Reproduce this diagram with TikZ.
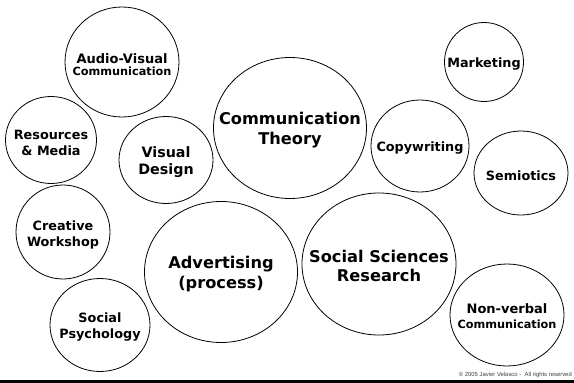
\documentclass[tikz,border=0pt]{standalone}
\usepackage{fontspec}
\setmainfont{DejaVu Sans}
\newfontfamily\notefont{Liberation Sans}
\usetikzlibrary{shapes.geometric}

\tikzset{
  bubble/.style={draw=black, line width=0.8pt, ellipse, inner sep=0pt},
  txt/.style={font=\bfseries\fontsize{12.8}{16}\selectfont, align=center, text=black, yshift=-2.5pt},
  bigtxt/.style={font=\bfseries\fontsize{16.2}{19.5}\selectfont, align=center, text=black, yshift=-2pt},
  midtxt/.style={font=\bfseries\fontsize{14.3}{17}\selectfont, align=center, text=black, yshift=-2.5pt},
}
\newcommand{\smallline}[1]{{\fontsize{11.3}{13}\selectfont #1}}

\begin{document}
\begin{tikzpicture}[x=1pt, y=-1pt]
  % canvas
  \fill[white] (0,0) rectangle (574,383);
  \useasboundingbox (0,0) rectangle (574,383);

  % topic bubbles
  \node[bubble, minimum width=114pt, minimum height=110pt,
        label={[txt, font=\bfseries\fontsize{13}{13}\selectfont]center:Audio-Visual\\[-1pt]\smallline{Communication}}] (av) at (122,62) {};
  \node[bubble, minimum width=91pt, minimum height=87pt,
        label={[txt]center:Resources\\\& Media}] (res) at (51,140) {};
  \node[bubble, minimum width=94pt, minimum height=87pt,
        label={[midtxt]center:Visual\\Design}] (vis) at (166,160) {};
  \node[bubble, minimum width=153pt, minimum height=141pt,
        label={[bigtxt]center:Communication\\Theory}] (ct) at (290,128) {};
  \node[bubble, minimum width=79pt, minimum height=79pt,
        label={[txt]center:Marketing}] (mkt) at (484,62) {};
  \node[bubble, minimum width=98pt, minimum height=92pt,
        label={[txt]center:Copywriting}] (copy) at (420,146) {};
  \node[bubble, minimum width=94pt, minimum height=84pt,
        label={[txt]center:Semiotics}] (sem) at (521,173) {};
  \node[bubble, minimum width=94pt, minimum height=94pt,
        label={[txt]center:Creative\\Workshop}] (cre) at (63,232) {};
  \node[bubble, minimum width=100pt, minimum height=93pt,
        label={[txt]center:Social\\Psychology}] (sp) at (100,325) {};
  \node[bubble, minimum width=153pt, minimum height=141pt,
        label={[bigtxt]center:Advertising\\(process)}] (adv) at (221,272) {};
  \node[bubble, minimum width=154pt, minimum height=142pt,
        label={[bigtxt]center:Social Sciences\\Research}] (ssr) at (379,264) {};
  \node[bubble, minimum width=114pt, minimum height=102pt,
        label={[txt, yshift=1pt, font=\bfseries\fontsize{13}{15}\selectfont]center:Non-verbal\\\smallline{Communication}}] (nv) at (507,315) {};

  % footer
  \node[anchor=base east, inner sep=0pt, text=black!75,
        font=\notefont\fontsize{5.9}{7}\selectfont] (copyright) at (572,376)
        {© 2005 Javier Velasco -~~All rights reserved};
  \fill[black] (0,379.5) rectangle (574,383);
\end{tikzpicture}
\end{document}
